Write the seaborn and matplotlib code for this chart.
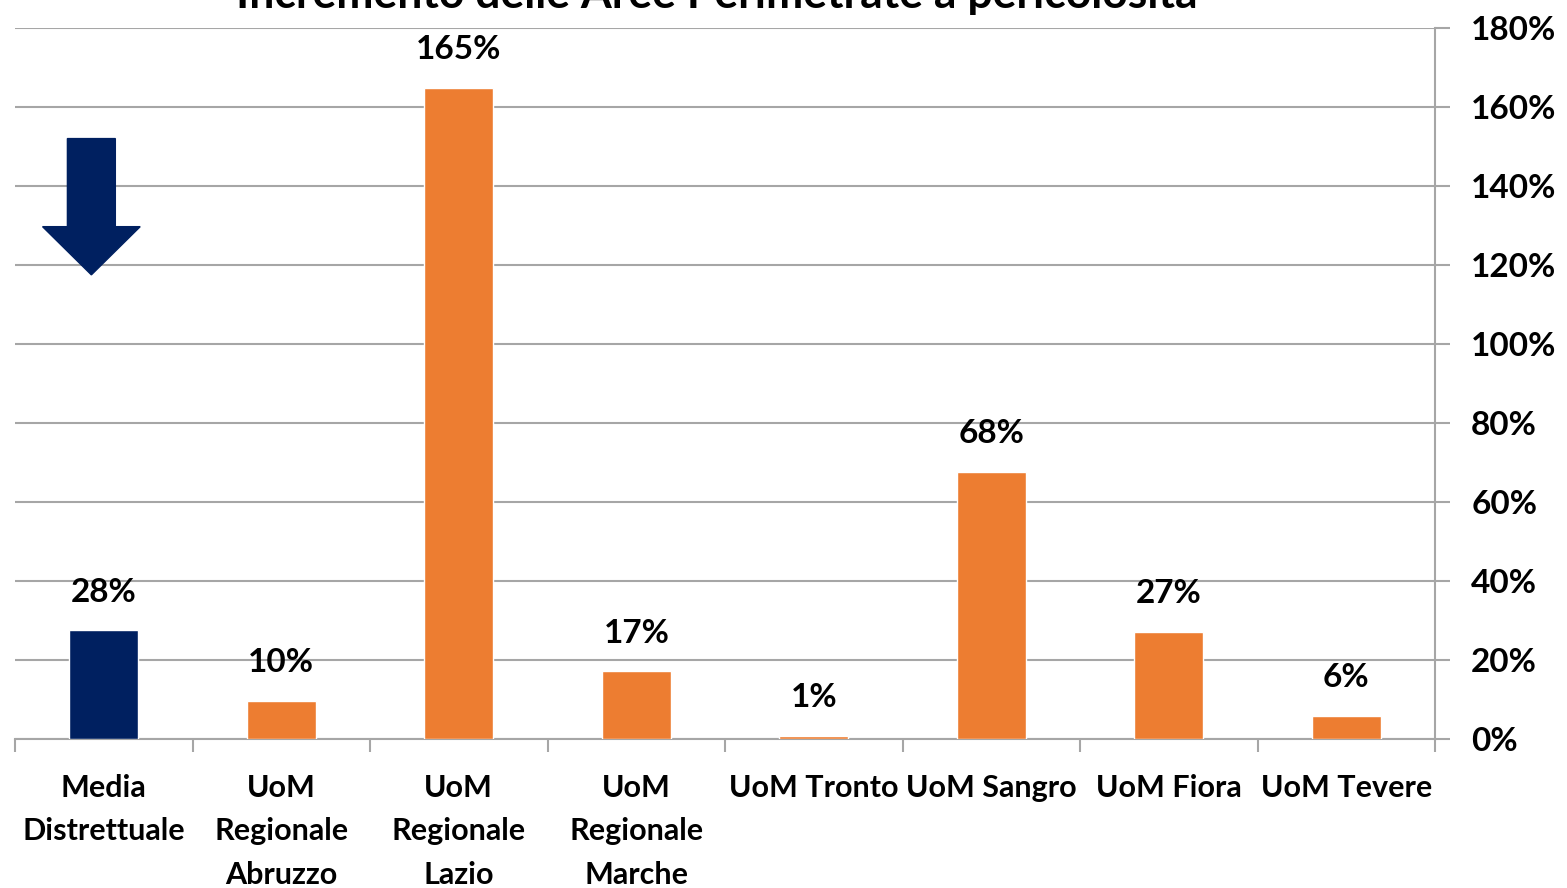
import numpy as np
import pandas as pd
import seaborn as sns
import matplotlib.pyplot as plt
from matplotlib.patches import FancyArrow
from matplotlib.ticker import FixedLocator, PercentFormatter

categories = ["Media\nDistrettuale", "UoM\nRegionale\nAbruzzo", "UoM\nRegionale\nLazio",
              "UoM\nRegionale\nMarche", "UoM Tronto", "UoM Sangro", "UoM Fiora", "UoM Tevere"]
values = [27.5, 9.7, 164.8, 17.1, 0.8, 67.6, 27.1, 5.8]
labels = ["28%", "10%", "165%", "17%", "1%", "68%", "27%", "6%"]
colors = ["#002060"] + ["#ED7D31"] * 7
title = "Incremento delle Aree Perimetrate a pericolosità"

sns.set_style("white")
plt.rcParams['font.family'] = ['Lato', 'DejaVu Sans']
plt.rcParams['font.weight'] = 'bold'
plt.rcParams['text.color'] = 'black'

df = pd.DataFrame({"cat": categories, "val": values})

fig = plt.figure(figsize=(15.67, 8.88), dpi=100)
ax = fig.add_axes([0.0096, 0.1678, 0.9062, 0.8007])

sns.barplot(data=df, x="cat", y="val", hue="cat", palette=colors, legend=False,
            width=0.39, saturation=1, ax=ax, zorder=3)

ax.set_xlim(-0.5, len(categories) - 0.5)
ax.set_ylim(0, 180)
ax.yaxis.tick_right()
ax.set_yticks(np.arange(0, 181, 20))
ax.yaxis.set_major_formatter(PercentFormatter(decimals=0))
ax.grid(axis="y", color="#A6A6A6", linewidth=1.5, zorder=0)
ax.set_xlabel("")
ax.set_ylabel("")

for s in ["top", "left"]:
    ax.spines[s].set_visible(False)
for s in ["right", "bottom"]:
    ax.spines[s].set_color("#A6A6A6")
    ax.spines[s].set_linewidth(1.5)

ax.tick_params(axis="y", right=True, length=11, width=1.5, color="#A6A6A6",
               labelsize=24, pad=15, labelcolor="black")
ax.xaxis.set_minor_locator(FixedLocator(np.arange(-0.5, len(categories), 1)))
ax.tick_params(axis="x", which="major", length=0, labelsize=22, pad=25, labelcolor="black")
ax.tick_params(axis="x", which="minor", bottom=True, length=9.5, width=1.5, color="#A6A6A6")
for t in ax.get_xticklabels():
    t.set_linespacing(1.68)
    t.set_va("top")

for i, (v, lab) in enumerate(zip(values, labels)):
    ax.annotate(lab, (i, v), xytext=(0, 17), textcoords="offset points",
                ha="center", va="bottom", fontsize=24, fontweight="bold")

# down arrow next to the district average
ax.add_patch(FancyArrow(-0.07, 152, 0, -34.5, width=0.27, head_width=0.55,
                        head_length=12.2, length_includes_head=True,
                        color="#002060", zorder=4))

# title sits mostly above the canvas, as in the source image
fig.text(0.4575, 0.991, title, ha="center", va="baseline", fontsize=32, fontweight="bold")

fig.savefig("out.png", dpi=100)
